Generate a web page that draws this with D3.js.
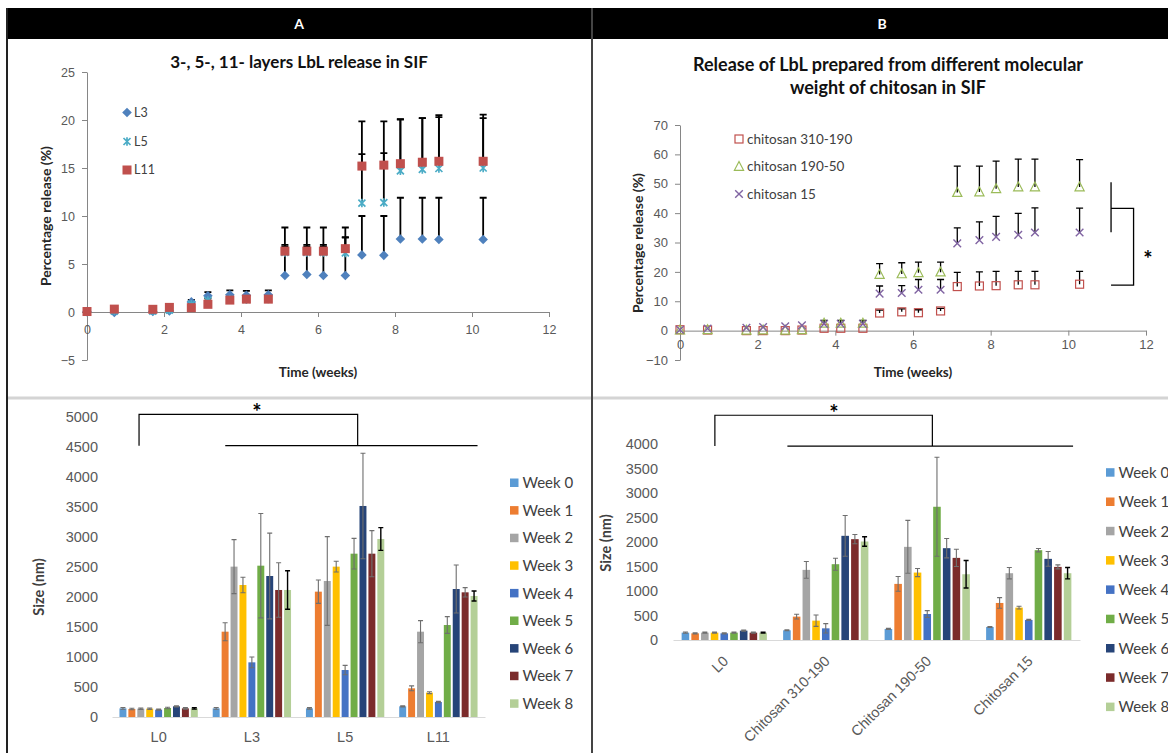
<!DOCTYPE html>
<html>
<head>
<meta charset="utf-8">
<script src="https://cdn.jsdelivr.net/npm/d3@7"></script>
<style>
	body { margin: 0; background: #fff; }
	svg { display: block; font-family: Lato, "Open Sans", sans-serif; }
</style>
</head>
<body>
<script>
// sampling times (weeks), shared by both release plots
var weeks = [0, 0.71, 1.71, 2.14, 2.71, 3.14, 3.71, 4.14, 4.71, 5.14, 5.71, 6.14, 6.71, 7.14, 7.71, 8.14, 8.71, 9.14, 10.29];

// panel A: release (%) of 3-, 5-, 11- layer LbL
var relL3  = [0.05, -0.05, 0.05, 0.1, 1.05, 1.7, 1.8, 1.75, 1.8, 3.8, 3.9, 3.8, 3.8, 5.95, 5.9, 7.6, 7.6, 7.55, 7.55];
var errL3  = [0, 0, 0, 0, 0.2, 0.37, 0.45, 0.45, 0.45, 3.2, 3.1, 3.2, 4.0, 4.05, 4.1, 4.3, 4.3, 4.35, 4.35];
var relL5  = [0, 0.1, 0.1, 0.2, 0.8, 1.2, 1.3, 1.3, 1.35, 6.2, 6.2, 6.2, 6.15, 11.35, 11.4, 14.7, 14.85, 14.95, 15.0];
var errL5  = [0, 0, 0, 0, 0.1, 0.2, 0.3, 0.3, 0.3, 0.6, 0.6, 0.6, 1.6, 5.1, 5.15, 5.4, 5.35, 5.35, 5.2];
var relL11 = [0.05, 0.3, 0.28, 0.48, 0.45, 0.8, 1.24, 1.34, 1.34, 6.34, 6.34, 6.34, 6.6, 15.2, 15.3, 15.45, 15.6, 15.7, 15.7];
var errL11 = [0, 0, 0, 0, 0.1, 0.2, 0.4, 0.4, 0.4, 2.46, 2.46, 2.46, 2.2, 4.65, 4.55, 4.6, 4.6, 4.8, 4.85];

// panel B: release (%) for chitosan molecular weights
var relC310 = [0.3, 0.2, 0, 0, 0, 0.2, 0.8, 0.8, 0.8, 6.0, 6.4, 6.1, 6.7, 15.0, 15.2, 15.3, 15.6, 15.6, 15.8];
var errC310 = [0, 0, 0, 0, 0, 0, 0, 0, 0, 1.0, 1.0, 1.0, 0.9, 4.8, 4.8, 4.9, 4.6, 4.6, 4.4];
var relC190 = [0.2, 0.3, 0.1, 0.2, 0.1, 0.3, 2.5, 2.5, 2.5, 19.1, 19.3, 19.7, 19.9, 47.0, 47.2, 48.3, 48.9, 48.9, 48.9];
var errC190 = [0, 0, 0, 0, 0, 0, 1.0, 1.0, 1.0, 3.7, 3.8, 3.6, 3.4, 9.0, 8.8, 9.4, 9.5, 9.5, 9.3];
var relC15  = [0.3, 0.7, 1.0, 1.2, 1.5, 1.8, 2.3, 2.3, 2.3, 12.6, 12.8, 13.9, 13.9, 29.7, 30.8, 31.9, 32.6, 33.4, 33.4];
var errC15  = [0, 0, 0, 0, 0, 0, 0, 0, 0, 2.6, 2.5, 3.5, 3.5, 5.3, 6.2, 7.0, 7.3, 8.4, 8.3];

// bar charts: particle size (nm) per week
var weekLabels = ['Week 0', 'Week 1', 'Week 2', 'Week 3', 'Week 4', 'Week 5', 'Week 6', 'Week 7', 'Week 8'];
var weekColors = ['#5B9BD5', '#ED7D31', '#A5A5A5', '#FFC000', '#4472C4', '#70AD47', '#264478', '#7B2B2B', '#B4CF97'];

var layerCats = ['L0', 'L3', 'L5', 'L11'];
var sizeL0  = [144, 133, 139, 139, 122, 150, 178, 144, 144];
var sdL0    = [15, 12, 12, 12, 10, 12, 10, 12, 12];
var sizeL3  = [144, 1422, 2506, 2200, 911, 2522, 2350, 2117, 2117];
var sdL3    = [15, 150, 450, 130, 90, 870, 715, 455, 320];
var sizeL5  = [144, 2089, 2267, 2506, 783, 2722, 3517, 2722, 2967];
var sdL5    = [12, 195, 740, 90, 78, 255, 880, 385, 190];
var sizeL11 = [178, 478, 1422, 406, 250, 1533, 2133, 2078, 2017];
var sdL11   = [10, 40, 185, 16, 10, 140, 400, 78, 83];

var chitoCats = ['L0', 'Chitosan 310-190', 'Chitosan 190-50', 'Chitosan 15'];
var sizeB0   = [150, 136, 150, 150, 136, 150, 191, 150, 150];
var sdB0     = [12, 10, 10, 10, 10, 10, 10, 10, 10];
var size310  = [198, 477, 1431, 395, 238, 1547, 2126, 2058, 2010];
var sd310    = [10, 48, 170, 116, 96, 122, 416, 95, 96];
var size190  = [225, 1145, 1901, 1376, 531, 2719, 1874, 1676, 1342];
var sd190    = [12, 150, 540, 82, 69, 1010, 197, 177, 280];
var size15   = [266, 756, 1363, 661, 409, 1833, 1656, 1492, 1363];
var sd15     = [10, 109, 116, 27, 12, 34, 150, 41, 116];

var svg = d3.select('body').append('svg')
	.attr('width', 1168)
	.attr('height', 753);

// frame: header bar, borders and dividers
svg.append('rect').attr('x', 7).attr('y', 8).attr('width', 1161).attr('height', 31).attr('fill', '#000');
svg.append('line').attr('x1', 7).attr('x2', 1168).attr('y1', 398).attr('y2', 398)
	.attr('stroke', '#d4d4d4').attr('stroke-width', 3);
svg.append('line').attr('x1', 7).attr('x2', 7).attr('y1', 8).attr('y2', 753)
	.attr('stroke', '#222').attr('stroke-width', 2);
svg.append('line').attr('x1', 592).attr('x2', 592).attr('y1', 8).attr('y2', 753)
	.attr('stroke', '#444').attr('stroke-width', 2);
svg.append('text').attr('x', 299).attr('y', 29).attr('text-anchor', 'middle')
	.attr('fill', '#fff').attr('font-weight', 'bold').attr('font-size', 14).text('A');
svg.append('text').attr('x', 882).attr('y', 29).attr('text-anchor', 'middle')
	.attr('fill', '#fff').attr('font-weight', 'bold').attr('font-size', 14).text('B');

// draws one marker shape at (0,0) into g
function addMarker(g, type, color) {
	if (type == 'diamond') {
		g.append('path').attr('d', 'M0,-4.8L4.8,0L0,4.8L-4.8,0Z').attr('fill', color);
	} else if (type == 'square') {
		g.append('rect').attr('x', -4.5).attr('y', -4.5).attr('width', 9).attr('height', 9).attr('fill', color);
	} else if (type == 'star') {
		g.append('path').attr('d', 'M-3.5,-3.5L3.5,3.5M-3.5,3.5L3.5,-3.5M0,-4.2V4.2')
			.attr('stroke', color).attr('stroke-width', 1.7).attr('fill', 'none');
	} else if (type == 'hsquare') {
		g.append('rect').attr('x', -4).attr('y', -4).attr('width', 8).attr('height', 8)
			.attr('fill', 'none').attr('stroke', color).attr('stroke-width', 1.2);
	} else if (type == 'htri') {
		g.append('path').attr('d', 'M0,-5L4.6,3.8H-4.6Z')
			.attr('fill', 'none').attr('stroke', color).attr('stroke-width', 1.2);
	} else {
		g.append('path').attr('d', 'M-3.8,-3.8L3.8,3.8M-3.8,3.8L3.8,-3.8')
			.attr('stroke', color).attr('stroke-width', 1.4).attr('fill', 'none');
	}
}

// scatter plot with upper error bars
function drawScatter(cfg) {
	var x = d3.scaleLinear().domain([0, 12]).range(cfg.xRange);
	var y = d3.scaleLinear().domain(cfg.yDomain).range(cfg.yRange);
	var g = svg.append('g');

	var yAxis = g.append('g')
		.attr('transform', 'translate(' + cfg.xRange[0] + ',0)')
		.call(d3.axisLeft(y).tickValues(cfg.yTicks).tickSize(5).tickSizeOuter(0).tickPadding(7));
	var xAxis = g.append('g')
		.attr('transform', 'translate(0,' + y(0) + ')')
		.call(d3.axisBottom(x).tickValues([0, 2, 4, 6, 8, 10, 12]).tickSize(5).tickSizeOuter(0).tickPadding(cfg.xPad));
	[yAxis, xAxis].forEach(function(a) {
		a.select('.domain').attr('stroke', '#868686');
		a.selectAll('.tick line').attr('stroke', '#868686');
		a.selectAll('.tick text').attr('fill', '#595959').attr('font-size', cfg.tickSize).attr('font-family', null);
	});

	// error bars first, markers on top
	cfg.series.forEach(function(s) {
		var eg = g.append('g').attr('stroke', '#000').attr('stroke-width', cfg.errWidth).attr('fill', 'none');
		weeks.forEach(function(t, i) {
			if (s.err[i] <= 0) return;
			var px = x(t), top = y(s.vals[i] + s.err[i]);
			eg.append('path').attr('d', 'M' + px + ',' + y(s.vals[i]) + 'V' + top +
				'M' + (px - 3.5) + ',' + top + 'H' + (px + 3.5));
		});
	});
	cfg.series.forEach(function(s) {
		weeks.forEach(function(t, i) {
			var mg = g.append('g').attr('transform', 'translate(' + x(t) + ',' + y(s.vals[i]) + ')');
			addMarker(mg, s.marker, s.color);
		});
	});

	// legend
	cfg.series.forEach(function(s, i) {
		var lg = g.append('g').attr('transform', 'translate(' + cfg.legend.x + ',' + cfg.legend.y[i] + ')');
		addMarker(lg, s.marker, s.color);
		lg.append('text').attr('x', cfg.legend.dx).attr('dy', '0.35em')
			.attr('font-size', cfg.legend.size).attr('fill', '#404040').text(s.name);
	});

	// titles
	cfg.title.forEach(function(line, i) {
		g.append('text').attr('x', cfg.titleX).attr('y', cfg.titleY + i * 23)
			.attr('text-anchor', 'middle').attr('font-weight', 'bold')
			.attr('font-size', cfg.titleSize).attr('fill', '#111').text(line);
	});
	g.append('text').attr('x', (cfg.xRange[0] + cfg.xRange[1]) / 2).attr('y', 377)
		.attr('text-anchor', 'middle').attr('font-weight', 'bold').attr('font-size', 13.5)
		.attr('fill', '#262626').text('Time (weeks)');
	g.append('text').attr('transform', 'translate(' + cfg.yTitle[0] + ',' + cfg.yTitle[1] + ') rotate(-90)')
		.attr('text-anchor', 'middle').attr('font-weight', 'bold').attr('font-size', 14)
		.attr('fill', '#262626').text('Percentage release (%)');

	return { x: x, y: y, g: g };
}

drawScatter({
	xRange: [87, 549], yDomain: [-5, 25], yRange: [360, 72],
	yTicks: [-5, 0, 5, 10, 15, 20, 25], xPad: 8, errWidth: 1.8, tickSize: 12.5,
	series: [
		{ name: 'L3', vals: relL3, err: errL3, marker: 'diamond', color: '#4F81BD' },
		{ name: 'L5', vals: relL5, err: errL5, marker: 'star', color: '#4BACC6' },
		{ name: 'L11', vals: relL11, err: errL11, marker: 'square', color: '#C0504D' }
	],
	legend: { x: 127, y: [112.5, 141.5, 170], dx: 7, size: 12.5 },
	title: ['3-, 5-, 11- layers LbL release in SIF'], titleX: 299, titleY: 68, titleSize: 17,
	yTitle: [51, 216]
});

var chartB = drawScatter({
	xRange: [680, 1146], yDomain: [-10, 70], yRange: [360, 125],
	yTicks: [-10, 0, 10, 20, 30, 40, 50, 60, 70], xPad: 4, errWidth: 1.3, tickSize: 13,
	series: [
		{ name: 'chitosan 310-190', vals: relC310, err: errC310, marker: 'hsquare', color: '#C0504D' },
		{ name: 'chitosan 190-50', vals: relC190, err: errC190, marker: 'htri', color: '#9BBB59' },
		{ name: 'chitosan 15', vals: relC15, err: errC15, marker: 'x', color: '#8064A2' }
	],
	legend: { x: 739, y: [139, 166.5, 194], dx: 8, size: 13.5 },
	title: ['Release of LbL prepared from different molecular', 'weight of chitosan in SIF'],
	titleX: 888, titleY: 71, titleSize: 18,
	yTitle: [643, 243]
});

// significance bracket in B (between the release curves)
chartB.g.append('path')
	.attr('d', 'M' + chartB.x(11.1) + ',' + chartB.y(50.5) + 'V' + chartB.y(33.5) +
		'M' + chartB.x(11.1) + ',' + chartB.y(41.6) + 'H' + chartB.x(11.68) + 'V' + chartB.y(15.5) +
		'H' + chartB.x(11.1))
	.attr('stroke', '#000').attr('stroke-width', 1.3).attr('fill', 'none');
chartB.g.append('text').attr('x', chartB.x(12.05)).attr('y', chartB.y(21.8))
	.attr('text-anchor', 'middle').attr('font-weight', 'bold').attr('font-size', 22).text('*');

// grouped bar chart with symmetric error bars
function drawBars(cfg) {
	var x0 = d3.scaleBand().domain(cfg.cats).range(cfg.xRange).paddingInner(0.16).paddingOuter(cfg.padOut);
	var x1 = d3.scaleBand().domain(weekLabels).range([0, x0.bandwidth()]).paddingInner(0.22);
	var y = d3.scaleLinear().domain([0, cfg.yMax]).range(cfg.yRange);
	var g = svg.append('g');

	var yAxis = g.append('g')
		.attr('transform', 'translate(' + cfg.labelX + ',0)')
		.call(d3.axisLeft(y).ticks(cfg.yMax / 500).tickFormat(d3.format('d')).tickSize(0).tickPadding(0));
	yAxis.select('.domain').remove();
	yAxis.selectAll('.tick text').attr('fill', '#595959').attr('font-size', 14.5).attr('font-family', null);

	var xAxis = g.append('g')
		.attr('transform', 'translate(0,' + y(0) + ')')
		.call(d3.axisBottom(x0).tickSize(0).tickPadding(cfg.catPad));
	xAxis.select('.domain').attr('stroke', '#d9d9d9').attr('stroke-width', 1.2);
	xAxis.selectAll('.tick text').attr('fill', '#595959').attr('font-size', 14.5).attr('font-family', null);
	if (cfg.rotate) {
		xAxis.selectAll('.tick text')
			.attr('text-anchor', 'end').attr('dy', null)
			.attr('transform', 'translate(5,22) rotate(-45)')
			.attr('y', 0);
	}

	cfg.cats.forEach(function(c, ci) {
		var cg = g.append('g').attr('transform', 'translate(' + x0(c) + ',0)');
		weekLabels.forEach(function(w, wi) {
			var v = cfg.vals[ci][wi], sd = cfg.sds[ci][wi];
			var bx = x1(w), bw = x1.bandwidth();
			cg.append('rect').attr('x', bx).attr('y', y(v)).attr('width', bw).attr('height', y(0) - y(v))
				.attr('fill', weekColors[wi]);
			var cx = bx + bw / 2;
			cg.append('path')
				.attr('d', 'M' + cx + ',' + y(v - sd) + 'V' + y(v + sd) +
					'M' + (cx - 2.5) + ',' + y(v + sd) + 'H' + (cx + 2.5) +
					'M' + (cx - 2.5) + ',' + y(v - sd) + 'H' + (cx + 2.5))
				.attr('stroke', wi == 8 ? '#000' : '#6f6f6f')
				.attr('stroke-width', wi == 8 ? 1.4 : 1.1).attr('fill', 'none');
		});
	});

	// legend
	weekLabels.forEach(function(w, i) {
		var ly = cfg.legend.y + i * cfg.legend.step;
		g.append('rect').attr('x', cfg.legend.x).attr('y', ly - 4.5).attr('width', 8.5).attr('height', 8.5)
			.attr('fill', weekColors[i]);
		g.append('text').attr('x', cfg.legend.x + 12.5).attr('y', ly).attr('dy', '0.35em')
			.attr('font-size', 15).attr('fill', '#404040').text(w);
	});

	g.append('text').attr('transform', 'translate(' + cfg.yTitle[0] + ',' + cfg.yTitle[1] + ') rotate(-90)')
		.attr('text-anchor', 'middle').attr('font-weight', 'bold').attr('font-size', 14.5)
		.attr('fill', '#404040').text('Size (nm)');

	// significance bracket: L0 vs the coated groups
	var b = cfg.bracket;
	var xa = x0(b.left[0]) + x0.bandwidth() * b.left[1];
	var xb = x0(b.right[0]) + x0.bandwidth() * b.right[1];
	var xc = x0(b.lowStart[0]) + x0.bandwidth() * b.lowStart[1];
	var xd = x0(b.lowEnd[0]) + x0.bandwidth() * b.lowEnd[1];
	g.append('path')
		.attr('d', 'M' + xa + ',' + y(b.low) + 'V' + y(b.top) + 'H' + xb + 'V' + y(b.low) +
			'M' + xc + ',' + y(b.low) + 'H' + xd)
		.attr('stroke', '#000').attr('stroke-width', 1.2).attr('fill', 'none');
	g.append('text').attr('x', b.starX).attr('y', y(b.top) + 6)
		.attr('text-anchor', 'middle').attr('font-weight', 'bold').attr('font-size', 22).text('*');
}

drawBars({
	cats: layerCats, vals: [sizeL0, sizeL3, sizeL5, sizeL11], sds: [sdL0, sdL3, sdL5, sdL11],
	xRange: [112, 485], padOut: 0.08, yMax: 5000, yRange: [717, 417], labelX: 98, catPad: 15,
	legend: { x: 510, y: 483, step: 27.6 }, yTitle: [44, 587],
	bracket: { left: ['L0', 0.25], right: ['L5', 0.66], lowStart: ['L3', 0.16], lowEnd: ['L11', 1.0],
		top: 5045, low: 4522, starX: 257 }
});

drawBars({
	cats: chitoCats, vals: [sizeB0, size310, size190, size15], sds: [sdB0, sd310, sd190, sd15],
	xRange: [673, 1080], padOut: 0.085, yMax: 4000, yRange: [640, 444], labelX: 658, catPad: 0,
	rotate: true,
	legend: { x: 1106, y: 472.7, step: 29.3 }, yTitle: [611, 543],
	bracket: { left: ['L0', 0.39], right: ['Chitosan 190-50', 0.56], lowStart: ['Chitosan 310-190', 0.05],
		lowEnd: ['Chitosan 15', 1.02], top: 4587, low: 3957, starX: 834 }
});
</script>
</body>
</html>
